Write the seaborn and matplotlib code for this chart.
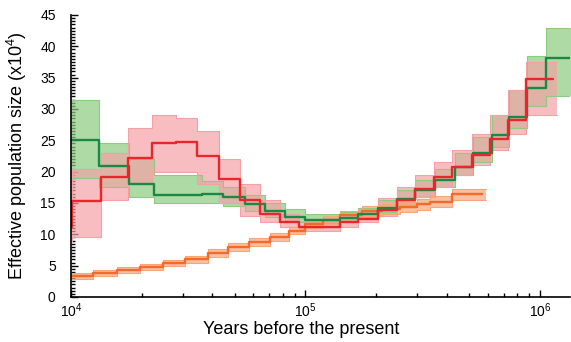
import numpy as np
import pandas as pd
import matplotlib
matplotlib.use('Agg')
import matplotlib.pyplot as plt
import seaborn as sns
from matplotlib.ticker import MultipleLocator, LogLocator

# step start times (years) and Ne (x10^4)
green_t = [10000, 13210, 17660, 22650, 36060, 44670, 55210, 67140, 81850, 99540,
           140300, 167900, 203700, 244900, 293100, 356500, 433500, 518800, 622300,
           739600, 883100, 1062000]
green_ne = [25.0, 20.9, 18.0, 16.2, 16.4, 15.9, 14.9, 13.8, 12.8, 12.3,
            12.6, 13.3, 14.2, 15.7, 17.1, 18.6, 20.8, 22.9, 25.8,
            28.8, 33.3, 38.1]
green_lo = [19.0, 17.5, 16.0, 15.0, 15.0, 14.5, 13.8, 12.8, 12.0, 11.8,
            12.2, 12.7, 13.5, 14.5, 16.0, 17.5, 19.5, 21.5, 24.0,
            27.0, 30.5, 32.0]
green_hi = [31.5, 24.5, 22.0, 19.5, 18.5, 17.5, 16.3, 15.0, 14.0, 13.2,
            13.5, 14.2, 15.5, 17.0, 18.6, 20.5, 23.0, 25.5, 29.0,
            33.0, 38.5, 43.0]
green_end = 1343000

red_t = [9000, 10050, 13400, 17580, 22080, 27930, 34590, 42850, 52480, 63970,
         77800, 94190, 140300, 167900, 203700, 244900, 293100, 353200, 421700,
         512900, 612300, 731100, 871000]
red_ne = [11.2, 15.3, 19.2, 22.2, 24.5, 24.8, 22.5, 18.8, 15.5, 13.3,
          12.0, 11.2, 12.0, 12.5, 13.9, 15.5, 17.2, 19.2, 20.8,
          22.7, 25.2, 28.3, 34.8]
red_lo = [9.0, 9.5, 15.5, 18.0, 20.0, 20.0, 18.0, 15.0, 13.0, 12.0,
          11.2, 10.5, 11.2, 12.0, 13.0, 14.3, 16.0, 17.5, 19.5,
          21.0, 23.5, 26.0, 29.0]
red_hi = [12.0, 20.5, 23.0, 27.0, 29.0, 28.5, 26.5, 22.0, 18.0, 15.5,
          13.2, 12.2, 13.0, 14.0, 15.8, 17.5, 19.5, 21.5, 23.5,
          26.0, 29.0, 33.0, 37.5]
red_end = 1135000

orange_t = [10000, 12450, 15670, 19680, 24770, 30620, 38550, 46880, 57540, 70790,
            85110, 100000, 118900, 140300, 173800, 211300, 252900, 297900, 338800,
            419800]
orange_ne = [3.4, 3.8, 4.3, 4.8, 5.4, 6.0, 7.0, 8.0, 8.8, 9.6,
             10.6, 11.6, 12.3, 13.1, 13.8, 14.1, 14.4, 14.8, 15.2,
             16.5]
orange_lo = [2.9, 3.3, 3.8, 4.3, 4.9, 5.5, 6.4, 7.4, 8.2, 9.0,
             10.0, 11.0, 11.6, 12.4, 13.0, 13.3, 13.6, 13.9, 14.3,
             15.5]
orange_hi = [3.9, 4.3, 4.8, 5.3, 5.9, 6.5, 7.6, 8.6, 9.4, 10.2,
             11.2, 12.2, 13.0, 13.8, 14.6, 14.9, 15.2, 15.7, 16.1,
             17.3]
orange_end = 563600

pops = ['orange', 'green', 'red']
main_colors = {'green': '#178a45', 'red': '#e8262b', 'orange': '#f26a2c'}
band_colors = {'green': '#8ccb80', 'red': '#f4a1a6', 'orange': '#f8a679'}

series = {
    'green': (green_t, green_ne, green_lo, green_hi, green_end),
    'red': (red_t, red_ne, red_lo, red_hi, red_end),
    'orange': (orange_t, orange_ne, orange_lo, orange_hi, orange_end),
}


def close_steps(t, v, t_end):
    return list(t) + [t_end], list(v) + [v[-1]]


sns.set_style('ticks')
plt.rcParams['font.family'] = ['Liberation Sans', 'DejaVu Sans']
plt.rcParams['mathtext.fontset'] = 'custom'
plt.rcParams['mathtext.rm'] = 'Liberation Sans'
plt.rcParams['mathtext.it'] = 'Liberation Sans:italic'
plt.rcParams['xtick.direction'] = 'in'
plt.rcParams['ytick.direction'] = 'in'
for key in ['text.color', 'axes.labelcolor', 'xtick.color', 'ytick.color',
            'axes.edgecolor']:
    plt.rcParams[key] = 'black'

fig = plt.figure(figsize=(5.71, 3.42), dpi=100)
ax = fig.add_axes([71 / 571, 1 - 297 / 342, 499 / 571, 282 / 342])

# bootstrap spread as light bands
for pop in ['green', 'red', 'orange']:
    t, v, lo, hi, t_end = series[pop]
    x, lo_s = close_steps(t, lo, t_end * 1.04)
    _, hi_s = close_steps(t, hi, t_end * 1.04)
    ax.fill_between(x, lo_s, hi_s, step='post', color=band_colors[pop],
                    alpha=0.7, lw=0)
    ax.step(x, lo_s, where='post', color=band_colors[pop], lw=0.8)
    ax.step(x, hi_s, where='post', color=band_colors[pop], lw=0.8)

# main estimates
rows = []
for pop in pops:
    t, v, lo, hi, t_end = series[pop]
    x, y = close_steps(t, v, t_end)
    for xi, yi in zip(x, y):
        rows.append({'pop': pop, 'years': xi, 'ne': yi})
df = pd.DataFrame(rows)

sns.lineplot(data=df, x='years', y='ne', hue='pop', hue_order=pops,
             palette=main_colors, estimator=None, sort=False, units='pop',
             drawstyle='steps-post', lw=1.7, legend=False, ax=ax)

ax.set_xscale('log')
ax.set_xlim(1e4, 1.343e6)
ax.set_ylim(0, 45)
ax.yaxis.set_major_locator(MultipleLocator(5))
ax.yaxis.set_minor_locator(MultipleLocator(0.5))
ax.xaxis.set_minor_locator(LogLocator(base=10, subs=np.arange(2, 10)))

ax.tick_params(which='both', direction='in', width=1.0, labelsize=10,
               color='black')
ax.tick_params(which='major', length=5)
ax.tick_params(which='minor', length=3)
ax.tick_params(axis='y', pad=11)
ax.tick_params(axis='x', pad=3)

sns.despine(ax=ax)
for s in ['left', 'bottom']:
    ax.spines[s].set_linewidth(1.2)

ax.set_xlabel('Years before the present', fontsize=13)
ax.set_ylabel('Effective population size (x10$^4$)', fontsize=13)
ax.xaxis.set_label_coords(0.461, -0.085)
ax.yaxis.set_label_coords(-0.084, 0.5)

fig.savefig('out.png', dpi=100)
